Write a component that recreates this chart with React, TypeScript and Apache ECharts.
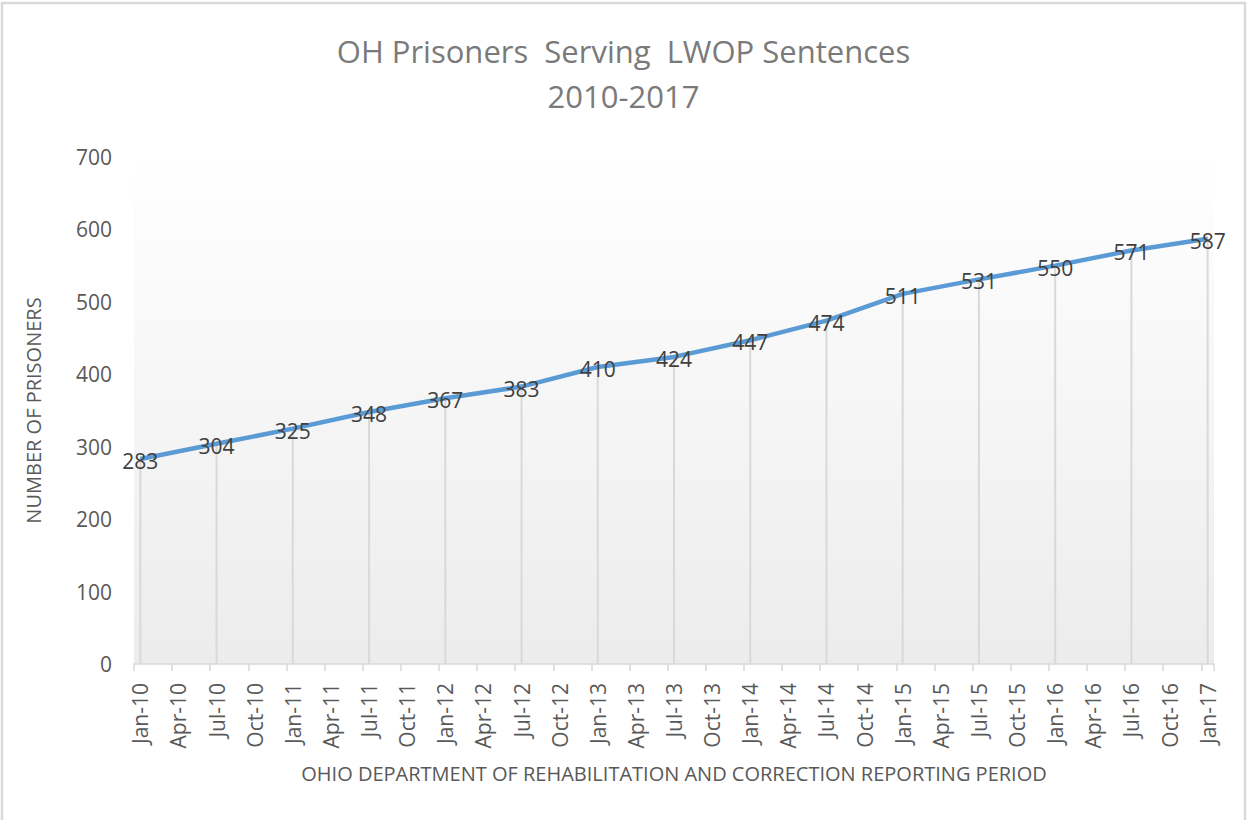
import React, { useEffect, useRef } from "react";
import * as echarts from "echarts";

const titleLines = ["OH Prisoners  Serving  LWOP Sentences", "2010-2017"];
const yAxisTitle = "NUMBER OF PRISONERS";
const xAxisTitle = "OHIO DEPARTMENT OF REHABILITATION AND CORRECTION REPORTING PERIOD";

const monthNames = ["Jan", "Feb", "Mar", "Apr", "May", "Jun", "Jul", "Aug", "Sep", "Oct", "Nov", "Dec"];
const yearSuffixes = ["10", "11", "12", "13", "14", "15", "16", "17"];

const reportPeriods = [
  "Jan-10", "Jul-10", "Jan-11", "Jul-11", "Jan-12", "Jul-12", "Jan-13", "Jul-13",
  "Jan-14", "Jul-14", "Jan-15", "Jul-15", "Jan-16", "Jul-16", "Jan-17",
];
const lwopCounts = [283, 304, 325, 348, 367, 383, 410, 424, 447, 474, 511, 531, 550, 571, 587];

const yTicks = { min: 0, max: 700, interval: 100 };

export default function App() {
  const ref = useRef<HTMLDivElement>(null);

  useEffect(() => {
    document.body.style.margin = "0";
    if (!ref.current) return;
    const chart = echarts.init(ref.current, null, { renderer: "svg" });

    // monthly category axis from Jan-10 to Jan-17
    const months: string[] = [];
    yearSuffixes.forEach((y) => {
      monthNames.forEach((m) => {
        months.push(`${m}-${y}`);
      });
    });
    const endIdx = months.indexOf("Jan-17");
    const categories = months.slice(0, endIdx + 1);
    const values: (number | null)[] = categories.map((c) => {
      const k = reportPeriods.indexOf(c);
      return k >= 0 ? lwopCounts[k] : null;
    });

    const font = "'Open Sans', 'Liberation Sans', sans-serif";
    const gray = "#595959";

    chart.setOption({
      animation: false,
      backgroundColor: "#ffffff",
      textStyle: { fontFamily: font },
      title: {
        text: titleLines.join("\n"),
        left: "center",
        top: 23,
        textStyle: {
          fontFamily: font,
          fontSize: 31,
          fontWeight: "normal",
          color: "#7a7a7a",
          lineHeight: 45,
        },
      },
      graphic: [
        {
          type: "rect",
          shape: { x: 2, y: 3, width: 1243, height: 840 },
          style: { fill: "none", stroke: "#d9d9d9", lineWidth: 2.5 },
          silent: true,
        },
      ],
      grid: {
        left: 134,
        right: 33,
        top: 157,
        bottom: 156,
        show: true,
        borderWidth: 0,
        backgroundColor: new echarts.graphic.LinearGradient(0, 0, 0, 1, [
          { offset: 0, color: "#ffffff" },
          { offset: 1, color: "#ececec" },
        ]),
      },
      xAxis: {
        type: "category",
        data: categories,
        boundaryGap: true,
        name: xAxisTitle,
        nameLocation: "middle",
        nameGap: 99,
        nameTextStyle: { fontSize: 20, color: gray, fontFamily: font },
        axisLine: { show: true, lineStyle: { color: "#d9d9d9", width: 1.5 } },
        axisTick: {
          show: true,
          length: 7,
          interval: (i: number) => i % 3 === 0,
          lineStyle: { color: "#d9d9d9", width: 1.5 },
        },
        axisLabel: {
          interval: (i: number) => i % 3 === 0,
          rotate: 90,
          margin: 19,
          fontSize: 21,
          color: gray,
          fontFamily: font,
        },
        splitLine: { show: false },
      },
      yAxis: {
        type: "value",
        min: yTicks.min,
        max: yTicks.max,
        interval: yTicks.interval,
        name: yAxisTitle,
        nameLocation: "middle",
        nameGap: 91,
        nameTextStyle: { fontSize: 20, color: gray, fontFamily: font },
        axisLine: { show: false },
        axisTick: { show: false },
        splitLine: { show: false },
        axisLabel: { fontSize: 21, color: gray, margin: 22, fontFamily: font },
      },
      series: [
        {
          type: "bar",
          data: values,
          barWidth: 2,
          itemStyle: { color: "#d9d9d9" },
          silent: true,
          z: 1,
        },
        {
          type: "line",
          data: values,
          connectNulls: true,
          symbol: "circle",
          symbolSize: 1,
          showSymbol: true,
          lineStyle: { color: "#5b9bd5", width: 4.5 },
          itemStyle: { color: "#5b9bd5" },
          z: 3,
          label: {
            show: true,
            position: "top",
            distance: 0,
            offset: [0, 13],
            fontSize: 21,
            color: "#404040",
            fontFamily: font,
          },
        },
      ],
    });

    return () => chart.dispose();
  }, []);

  return <div ref={ref} style={{ width: 1247, height: 820 }} />;
}
